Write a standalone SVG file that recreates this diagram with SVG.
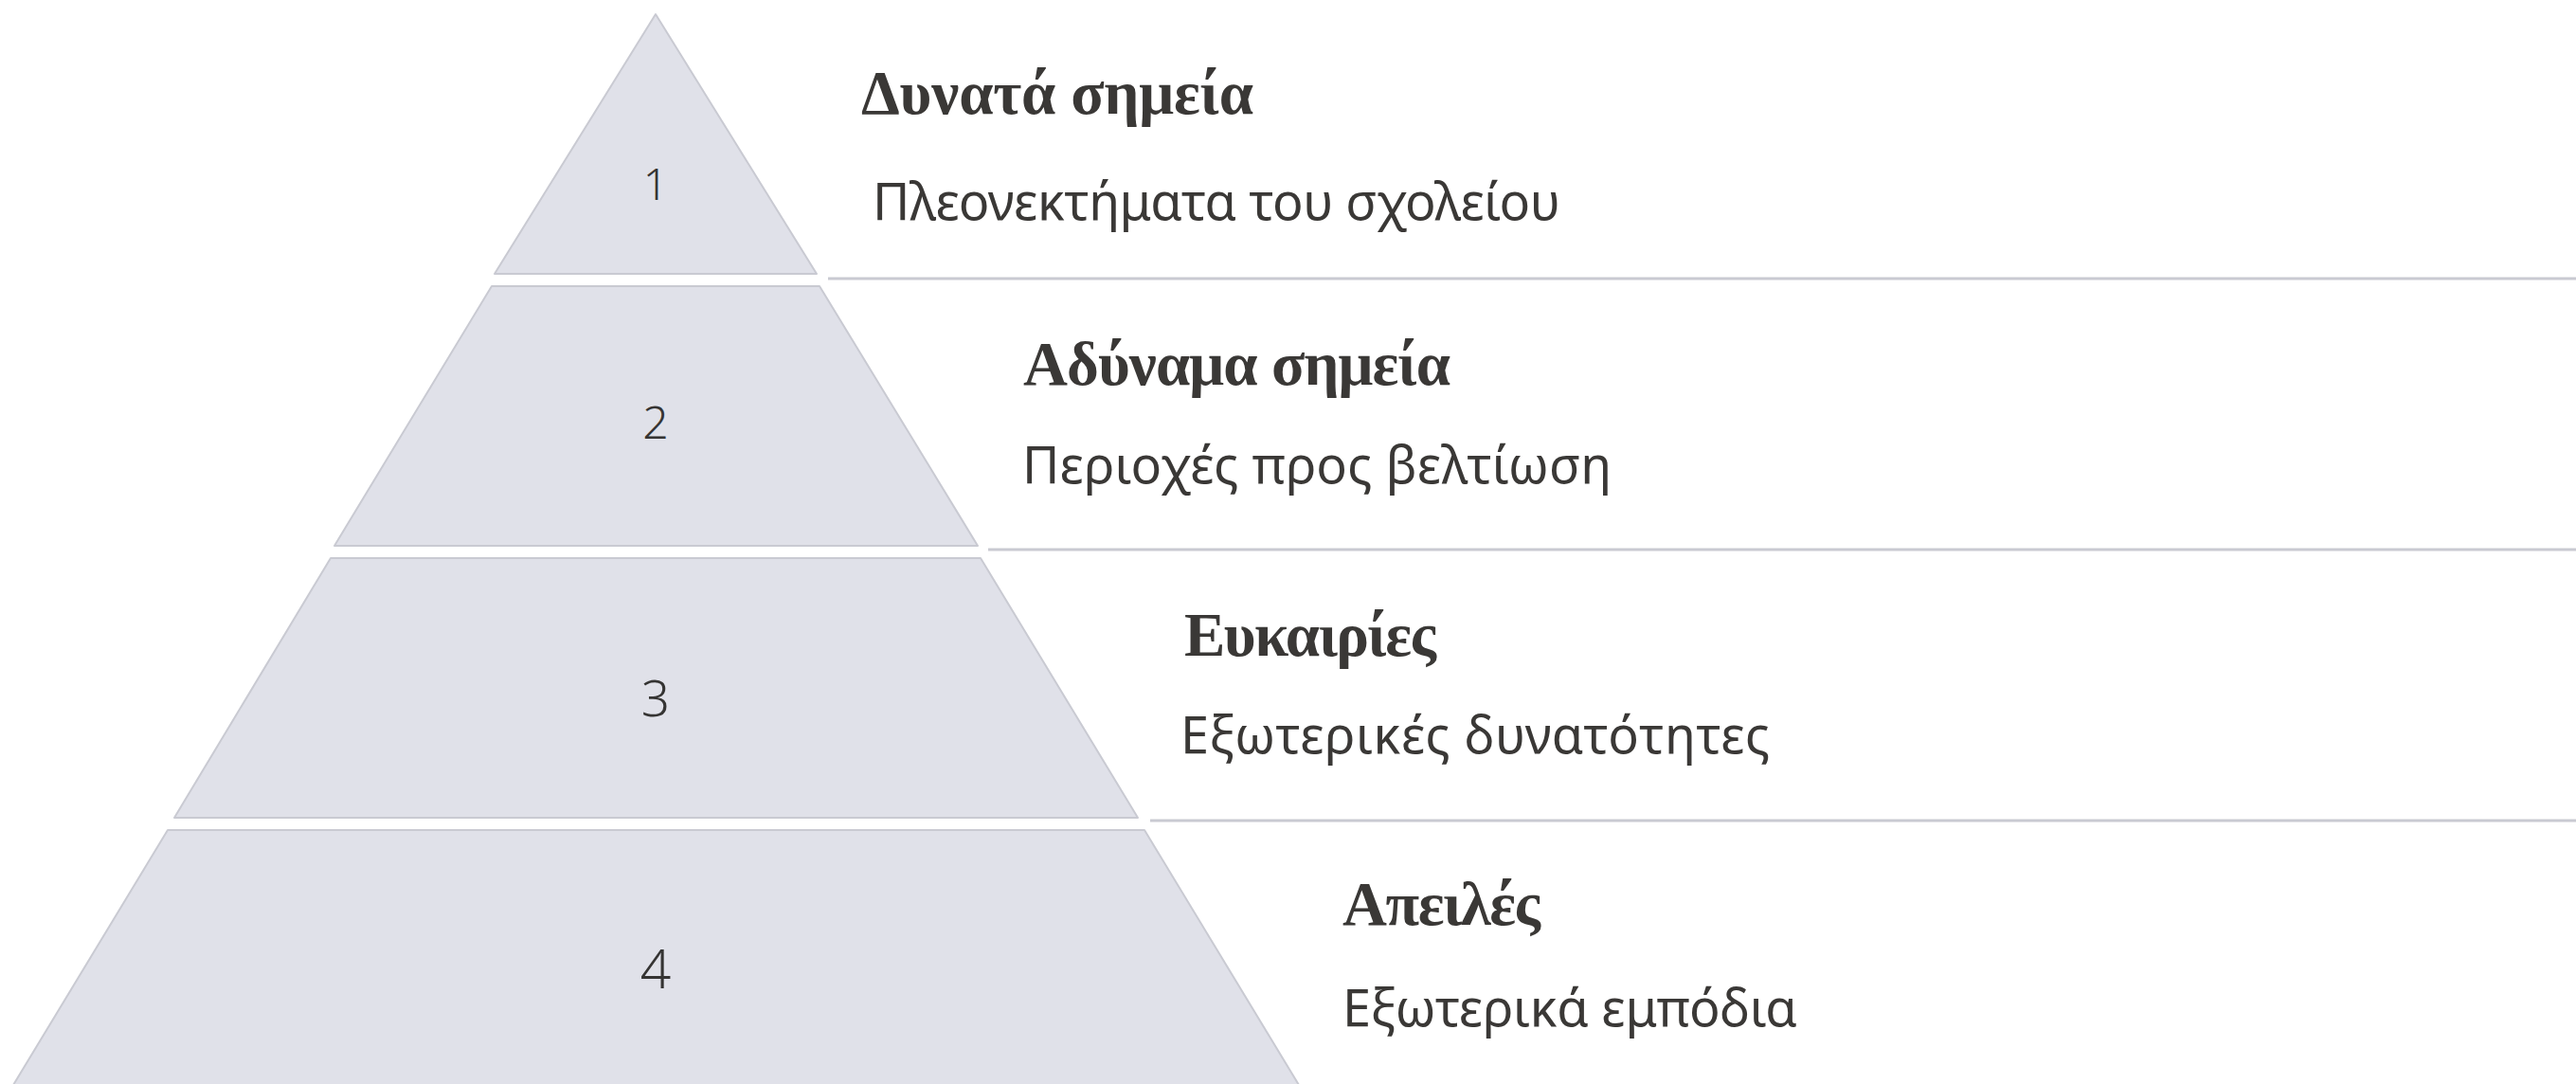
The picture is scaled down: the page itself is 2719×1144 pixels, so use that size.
<svg xmlns="http://www.w3.org/2000/svg" width="2719" height="1144" viewBox="0 0 2719 1144">
<style>
.tier{fill:#e0e1e9;stroke:#c9cad2;stroke-width:2;stroke-linejoin:round}
.num{font-family:"Noto Sans","Liberation Sans",sans-serif;font-weight:300;fill:#353433;text-anchor:middle}
.title{font-family:"Liberation Serif","DejaVu Serif",serif;font-weight:bold;font-size:65px;fill:#3a3836}
.sub{font-family:"Noto Sans","Liberation Sans",sans-serif;font-size:54px;fill:#3a3836}
.sep{stroke:#c9cad2;stroke-width:3;fill:none}
</style>
<rect width="2719" height="1144" fill="#ffffff"/>
<g id="connectors">
<line class="sep" x1="874" y1="294" x2="2719" y2="294"/>
<line class="sep" x1="1043" y1="580" x2="2719" y2="580"/>
<line class="sep" x1="1214" y1="866" x2="2719" y2="866"/>
</g>
<g id="tier1">
<polygon class="tier" points="692,15 862,289 522,289"/>
<text class="num" x="692" y="211" font-size="46">1</text>
<text class="title" x="909" y="120" textLength="414">Δυνατά σημεία</text>
<text class="sub" x="921" y="232" textLength="726">Πλεονεκτήματα του σχολείου</text>
</g>
<g id="tier2">
<polygon class="tier" points="519,302 865,302 1032,576 353,576"/>
<text class="num" x="692" y="463" font-size="48">2</text>
<text class="title" x="1080" y="406" textLength="451">Αδύναμα σημεία</text>
<text class="sub" x="1079" y="510" textLength="622">Περιοχές προς βελτίωση</text>
</g>
<g id="tier3">
<polygon class="tier" points="349,589 1035,589 1201,863 184,863"/>
<text class="num" x="692" y="756" font-size="53">3</text>
<text class="title" x="1250" y="692" textLength="266">Ευκαιρίες</text>
<text class="sub" x="1246" y="795" textLength="622">Εξωτερικές δυνατότητες</text>
</g>
<g id="tier4">
<polygon class="tier" points="177,876 1208,876 1374,1150 11,1150"/>
<text class="num" x="692" y="1043" font-size="57">4</text>
<text class="title" x="1417" y="976" textLength="209">Απειλές</text>
<text class="sub" x="1417" y="1083" textLength="480">Εξωτερικά εμπόδια</text>
</g>
</svg>
